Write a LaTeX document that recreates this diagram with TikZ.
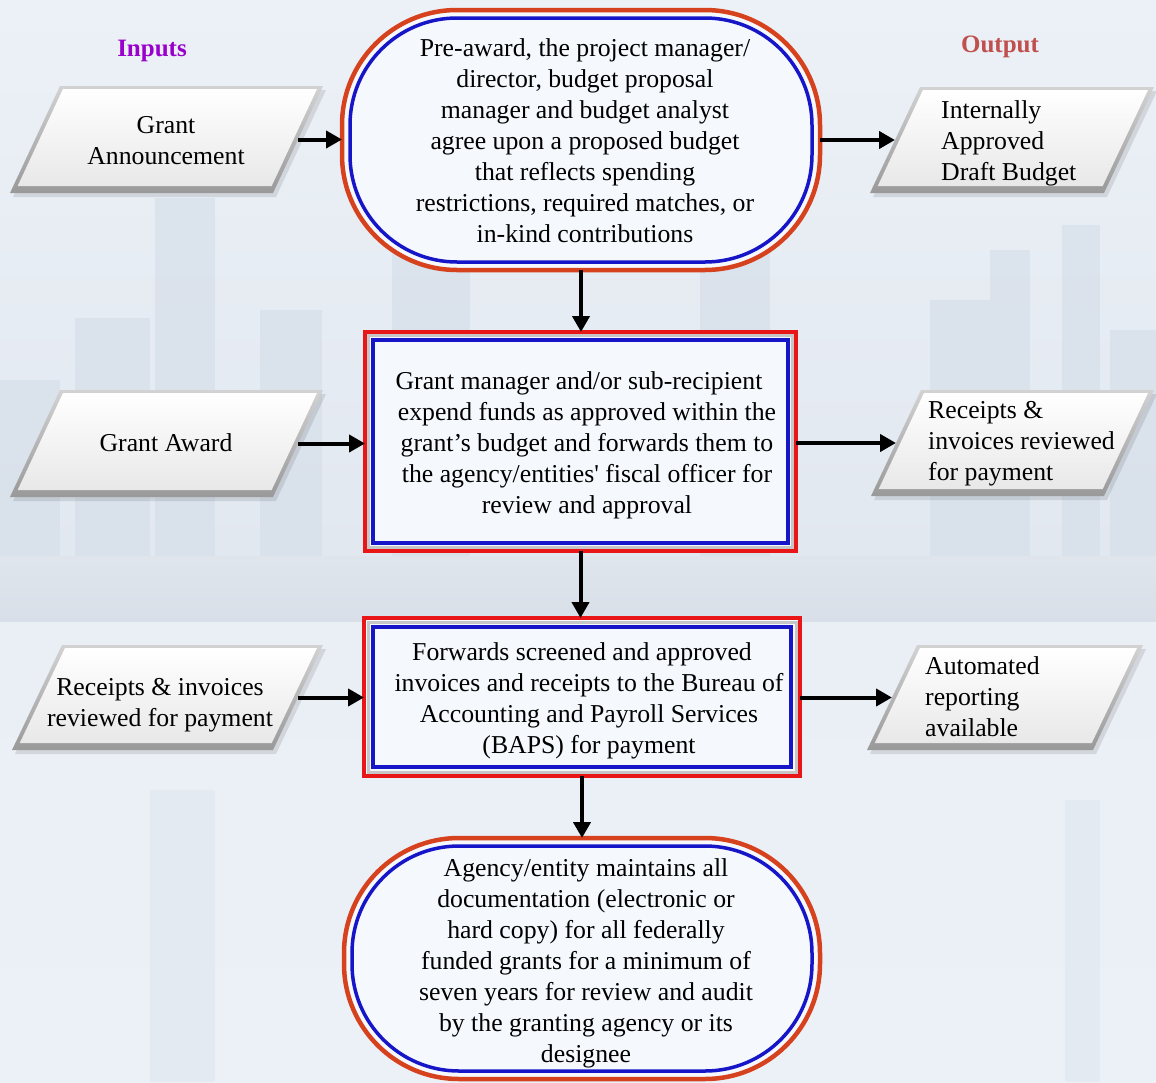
\documentclass[tikz,border=0pt]{standalone}
\usepackage{fontspec}
\newfontfamily\bodyfont{Liberation Serif}
\usetikzlibrary{arrows.meta,calc}
\definecolor{bgtop}{RGB}{236,241,247}
\definecolor{bgmid}{RGB}{226,232,240}
\definecolor{bgband}{RGB}{216,223,232}
\definecolor{bglow}{RGB}{234,239,246}
\definecolor{bldg}{RGB}{214,223,233}
\definecolor{stadred}{RGB}{214,66,30}
\definecolor{boxred}{RGB}{232,22,22}
\definecolor{lineblue}{RGB}{22,22,200}
\definecolor{facefill}{RGB}{245,248,252}
\definecolor{inputc}{RGB}{153,0,204}
\definecolor{outputc}{RGB}{192,80,77}
\newcommand\pgram[5]{%
  \pgfmathsetmacro\pgsh{#5*(#4-10)/#4}%
  \fill[black,opacity=0.10] (#1+3,#2+4) -- ++(#3,0) -- ++(-#5,#4) -- ++(-#3,0) -- cycle;
  \shade[top color=gray!35,bottom color=gray!80] (#1,#2) -- ++(#3,0) -- ++(-#5,#4) -- ++(-#3,0) -- cycle;
  \shade[top color=white,bottom color=gray!18] (#1+3,#2+3) -- ++(#3-9,0) -- ++(-\pgsh,#4-10) -- ++(-#3+9,0) -- cycle;
}
\begin{document}
\begin{tikzpicture}[x=1pt,y=-1pt,
  txt/.style={font=\bodyfont\fontsize{25.75}{31}\selectfont, inner sep=0pt, text=black},
  hdr/.style={font=\bodyfont\bfseries\fontsize{25}{30}\selectfont, inner sep=0pt},
  stadium/.style={draw=stadred, line width=4.5pt, fill=facefill, rounded corners=115pt, outer sep=0pt, inner sep=0pt},
  boxshape/.style={draw=boxred, line width=4pt, fill=facefill, outer sep=0pt, inner sep=0pt},
  blueln/.style={draw=lineblue, line width=3.5pt},
  arr/.style={line width=4pt, -{Triangle[length=16pt,width=17pt]}}]
\useasboundingbox (0,0) rectangle (1156,1082);
% background
\shade[top color=bgtop, bottom color=bgmid] (0,0) rectangle (1156,556);
\shade[top color=bgband!80!white, bottom color=bgband] (0,556) rectangle (1156,622);
\shade[top color=bglow, bottom color=bgtop] (0,622) rectangle (1156,1082);
\begin{scope}[fill=bldg, opacity=0.7]
  \fill (155,198) rectangle (215,556);
  \fill (75,318) rectangle (150,556);
  \fill (260,310) rectangle (322,556);
  \fill (0,380) rectangle (60,556);
  \fill (392,225) rectangle (470,556);
  \fill (700,240) rectangle (770,556);
  \fill (990,250) rectangle (1030,556);
  \fill (1062,225) rectangle (1100,556);
  \fill (930,300) rectangle (990,556);
  \fill (1110,330) rectangle (1156,556);
\end{scope}
\begin{scope}[fill=bldg, opacity=0.35]
  \fill (150,790) rectangle (215,1082);
  \fill (1065,800) rectangle (1100,1082);
\end{scope}
% headers
\node[hdr, text=inputc] (hin) at (152,51) {Inputs};
\node[hdr, text=outputc] (hout) at (1000,47) {Output};
% parallelograms
\pgram{60}{86}{263}{107}{50}
\pgram{60}{390}{263}{107}{50}
\pgram{62}{645}{261}{105}{50}
\pgram{920}{87}{234}{106}{50}
\pgram{921}{390}{233}{106}{50}
\pgram{917}{645}{226}{105}{50}
\coordinate (p1e) at (298,139.5);
\coordinate (p2e) at (298,443.5);
\coordinate (p3e) at (298,697.5);
\coordinate (p4w) at (895,140);
\coordinate (p5w) at (896,443);
\coordinate (p6w) at (892,697.5);
\node[txt, align=center] (t1) at (166,141) {Grant\\Announcement};
\node[txt, align=center] (t2) at (166,443) {Grant Award};
\node[txt, align=center] (t3) at (160,705.5) {Receipts \& invoices\\reviewed for payment};
\node[txt, align=left, anchor=west] (t4) at (941,143) {Internally\\Approved\\Draft Budget};
\node[txt, align=left, anchor=west] (t5) at (928,444) {Receipts \&\\invoices reviewed\\for payment};
\node[txt, align=left, anchor=west] (t6) at (925,697) {Automated\\reporting\\available};
% process shapes
\node[stadium, minimum width=478pt, minimum height=260pt] (s1) at (581,140) {};
\draw[blueln, rounded corners=107pt] ($(s1.north west)+(8,8)$) rectangle ($(s1.south east)+(-8,-8)$);
\node[boxshape, minimum width=431pt, minimum height=219pt] (b2) at (580.5,441.5) {};
\draw[gray!45, line width=3pt] ($(b2.north west)+(3.5,3.5)$) rectangle ($(b2.south east)+(-3.5,-3.5)$);
\draw[blueln] ($(b2.north west)+(8,8)$) rectangle ($(b2.south east)+(-8,-8)$);
\node[boxshape, minimum width=436pt, minimum height=158pt] (b3) at (582,697) {};
\draw[gray!45, line width=3pt] ($(b3.north west)+(4,4)$) rectangle ($(b3.south east)+(-4,-4)$);
\draw[blueln] ($(b3.north west)+(9,9)$) rectangle ($(b3.south east)+(-9,-9)$);
\node[stadium, minimum width=476pt, minimum height=241pt] (s4) at (582,958.5) {};
\draw[blueln, rounded corners=107pt] ($(s4.north west)+(8,8)$) rectangle ($(s4.south east)+(-8,-8)$);
% texts
\node[txt, align=center] (x1) at (585,141) {Pre-award, the project manager/\\director, budget proposal\\manager and budget analyst\\agree upon a proposed budget\\that reflects spending\\restrictions, required matches, or\\in-kind contributions};
\node[txt, align=center] (x2) at (587,445.5) {Grant manager and/or sub-recipient\hspace*{16pt}\\expend funds as approved within the\\grant’s budget and forwards them to\\the agency/entities' fiscal officer for\\review and approval};
\node[txt, align=center] (x3) at (589,701) {Forwards screened and approved\hspace*{14pt}\\invoices and receipts to the Bureau of\\Accounting and Payroll Services\\(BAPS) for payment};
\node[txt, align=center] (x4) at (586,963) {Agency/entity maintains all\\documentation (electronic or\\hard copy) for all federally\\funded grants for a minimum of\\seven years for review and audit\\by the granting agency or its\\designee};
% arrows
\draw[arr] (p1e) -- (p1e -| s1.west);
\draw[arr] (p2e) -- (p2e -| b2.west);
\draw[arr] (p3e) -- (p3e -| b3.west);
\draw[arr] (s1.east |- p4w) -- (p4w);
\draw[arr] (b2.east |- p5w) -- (p5w);
\draw[arr] (b3.east |- p6w) -- (p6w);
\draw[arr] (s1.south) -- (s1.south |- b2.north);
\draw[arr] (b2.south) -- (b2.south |- b3.north);
\draw[arr] (b3.south) -- (b3.south |- s4.north);
\end{tikzpicture}
\end{document}
